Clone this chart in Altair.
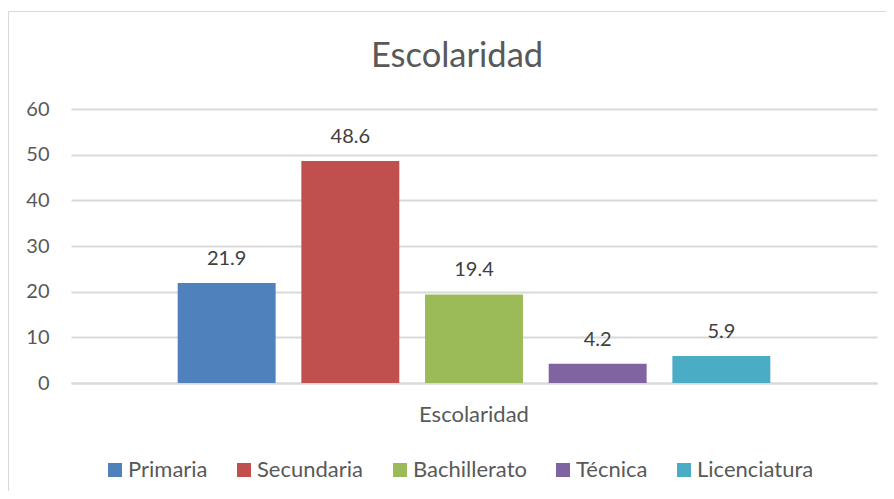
import altair as alt
import pandas as pd

categorias = ["Primaria", "Secundaria", "Bachillerato", "Técnica", "Licenciatura"]
valores = [21.9, 48.6, 19.4, 4.2, 5.9]
colores = ["#4F81BD", "#C0504D", "#9BBB59", "#8064A2", "#4BACC6"]
grupo = "Escolaridad"
y_ticks = [0, 10, 20, 30, 40, 50, 60]

df = pd.DataFrame({"grupo": [grupo] * len(categorias), "nivel": categorias, "valor": valores})

FONT = "Lato"
TXT = "#595959"

x_enc = alt.X("grupo:N", title=None,
              scale=alt.Scale(paddingInner=0, paddingOuter=0.18),
              axis=alt.Axis(labelAngle=0, labelFontSize=22, labelColor=TXT, labelFont=FONT,
                            labelPadding=21, ticks=False, domainColor="#D9D9D9", domainWidth=2))
xo_enc = alt.XOffset("nivel:N", sort=categorias,
                     scale=alt.Scale(paddingInner=0.208, paddingOuter=0))
y_enc = alt.Y("valor:Q", title=None,
              scale=alt.Scale(domain=[0, 60], nice=False),
              axis=alt.Axis(values=y_ticks, domain=False, ticks=False, labelFontSize=20,
                            labelColor=TXT, labelFont=FONT, labelPadding=22,
                            gridColor="#D9D9D9", gridWidth=2))

bars = alt.Chart(df).mark_bar().encode(
    x=x_enc, xOffset=xo_enc, y=y_enc,
    color=alt.Color("nivel:N", sort=categorias,
                    scale=alt.Scale(domain=categorias, range=colores),
                    legend=alt.Legend(title=None, orient="none", direction="horizontal",
                                      legendX=33, legendY=350, padding=0, symbolType="square",
                                      symbolSize=196, symbolStrokeWidth=0, labelFontSize=22,
                                      labelColor=TXT, labelFont=FONT, labelOffset=2,
                                      columnPadding=25, symbolOpacity=1)),
)

labels = alt.Chart(df).mark_text(dy=-18, baseline="alphabetic", fontSize=20, font=FONT,
                                 color="#404040").encode(
    x=alt.X("grupo:N"), xOffset=alt.XOffset("nivel:N", sort=categorias),
    y=alt.Y("valor:Q"), text=alt.Text("valor:Q", format=".1f"),
)

frame = alt.Chart(pd.DataFrame({"f": [0]})).mark_rect(
    fill=None, stroke="#D9D9D9", strokeWidth=1).encode(
    x=alt.value(-62.5), x2=alt.value(900), y=alt.value(-97.5), y2=alt.value(500))

chart = alt.layer(frame, bars, labels).properties(
    width=806, height=274,
    padding={"left": 63, "top": 101, "right": 9, "bottom": 108},
    autosize=alt.AutoSizeParams(type="none"),
    title=alt.TitleParams("Escolaridad", fontSize=34.5, font=FONT, fontWeight="normal",
                          color=TXT, anchor="middle", frame="group", dx=-17, offset=-90,
                          baseline="alphabetic"),
).configure_view(stroke=None).configure_axis(labelFont=FONT)

chart.save("out.html", embed_options={"renderer": "svg", "actions": False})
